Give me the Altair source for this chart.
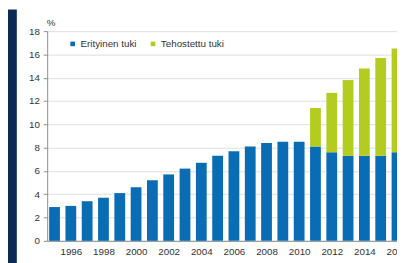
import altair as alt
import pandas as pd

years = list(range(1995, 2017))
erityinen = [2.9, 3.0, 3.4, 3.7, 4.1, 4.6, 5.2, 5.7, 6.2, 6.7, 7.3, 7.7, 8.1, 8.4, 8.5, 8.5,
             8.1, 7.6, 7.3, 7.3, 7.3, 7.6]
tehostettu = [None] * 16 + [3.3, 5.1, 6.5, 7.5, 8.4, 8.9]
series = ["Erityinen tuki", "Tehostettu tuki"]
colors = ["#0a6db3", "#b4cc1f"]
y_ticks = list(range(0, 19, 2))
x_ticks = list(range(1996, 2017, 2))

rows = []
for y, e, t in zip(years, erityinen, tehostettu):
    rows.append({"year": y, "series": series[0], "value": e, "ord": 0})
    if t is not None:
        rows.append({"year": y, "series": series[1], "value": t, "ord": 1})
df = pd.DataFrame(rows)

FONT = "Liberation Sans"
TXT = "#333333"

# dark frame strip at the left edge (decorative)
strip = alt.Chart(pd.DataFrame({"a": [0]})).mark_rect(color="#0b2a55").encode(
    x=alt.value(-41), x2=alt.value(-31), y=alt.value(-22), y2=alt.value(240)
)

bars = alt.Chart(df).mark_bar(size=11).encode(
    x=alt.X("year:Q",
            scale=alt.Scale(domain=[1994.55, 2016], nice=False, zero=False, padding=0),
            axis=alt.Axis(values=x_ticks, format="d", title=None, grid=False, ticks=False,
                          labelFlush=False, labelOverlap=False, labelPadding=6,
                          domainColor="#8c8c8c", labelFontSize=10, labelColor=TXT,
                          labelFont=FONT)),
    y=alt.Y("value:Q", stack="zero",
            scale=alt.Scale(domain=[0, 18], nice=False),
            axis=alt.Axis(values=y_ticks, title="%", titleAngle=0, titleAlign="left",
                          titleBaseline="middle", titleX=-1, titleY=-9,
                          titleFontSize=10, titleFontWeight="normal", titleColor=TXT,
                          titleFont=FONT,
                          gridColor="#dedede", domainColor="#8c8c8c", tickColor="#8c8c8c",
                          tickSize=4, labelPadding=4, labelFontSize=10, labelColor=TXT,
                          labelFont=FONT)),
    color=alt.Color("series:N", scale=alt.Scale(domain=series, range=colors),
                    legend=alt.Legend(title=None, orient="none", legendX=21, legendY=8,
                                      direction="horizontal", symbolType="square",
                                      symbolSize=22, symbolStrokeWidth=0,
                                      labelFontSize=10, labelColor=TXT, labelFont=FONT,
                                      labelOffset=3, columnPadding=11)),
    order=alt.Order("ord:Q"),
)

chart = alt.layer(strip, bars).properties(
    width=357, height=214,
    autosize=alt.AutoSizeParams(type="none"),
    padding={"left": 40, "top": 21, "right": 0, "bottom": 20},
    background="white",
).configure_view(stroke=None)

chart.save("out.html", embed_options={"renderer": "svg", "actions": False})
